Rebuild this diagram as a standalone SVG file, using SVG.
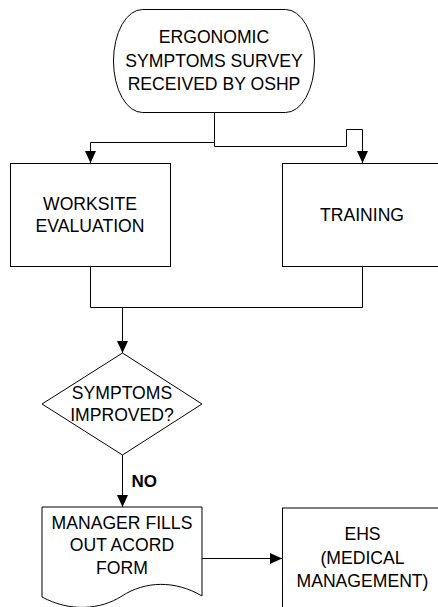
<svg xmlns="http://www.w3.org/2000/svg" width="438" height="607" viewBox="0 0 438 607">
<defs>
<marker id="arr" markerUnits="userSpaceOnUse" markerWidth="12" markerHeight="12" refX="12" refY="5.5" orient="auto">
<path d="M0,0 L12,5.5 L0,11 Z" fill="#000"/>
</marker>
<style>
.sh{fill:#fff;stroke:#000;stroke-width:1}
.t{font-family:"Liberation Sans",Arial,sans-serif;font-size:17.6px;fill:#000;text-anchor:middle}
.b{font-family:"Liberation Sans",Arial,sans-serif;font-size:17px;font-weight:bold;fill:#000}
.c{fill:none;stroke:#000;stroke-width:1}
</style>
</defs>
<rect width="438" height="607" fill="#fff"/>
<g id="connectors">
<path class="c" d="M214.5,112 V142.5 H90.5 V163" marker-end="url(#arr)"/>
<path class="c" d="M214.5,112 V146.5 H346.5 V129.5 H362.5 V163" marker-end="url(#arr)"/>
<path class="c" d="M90.5,267 V307.5 H362.5 V267"/>
<path class="c" d="M122.5,307.5 V353" marker-end="url(#arr)"/>
<path class="c" d="M122.5,455 V507" marker-end="url(#arr)"/>
<path class="c" d="M202,558.5 H282" marker-end="url(#arr)"/>
<text class="b" x="131.5" y="487">NO</text>
</g>
<g id="start">
<rect class="sh" x="113.5" y="9.5" width="201" height="103" rx="29" ry="51.5"/>
<text class="t" x="214" y="43">ERGONOMIC</text>
<text class="t" x="214" y="66.5">SYMPTOMS SURVEY</text>
<text class="t" x="214" y="90">RECEIVED BY OSHP</text>
</g>
<g id="worksite">
<rect class="sh" x="10.5" y="163.5" width="160" height="103"/>
<text class="t" x="90" y="210">WORKSITE</text>
<text class="t" x="90" y="232">EVALUATION</text>
</g>
<g id="training">
<rect class="sh" x="282.5" y="163.5" width="160" height="103"/>
<text class="t" x="362" y="221">TRAINING</text>
</g>
<g id="decision">
<path class="sh" d="M122.5,353 L202,404 L122.5,455 L42,404 Z"/>
<text class="t" x="122" y="398.5">SYMPTOMS</text>
<text class="t" x="122" y="421">IMPROVED?</text>
</g>
<g id="manager">
<path class="sh" d="M42,507 H202 V596 C175,580 145,581 122,596 C100,610 70,612 42,597 Z"/>
<text class="t" x="122" y="528.5">MANAGER FILLS</text>
<text class="t" x="122" y="551">OUT ACORD</text>
<text class="t" x="122" y="573.5">FORM</text>
</g>
<g id="ehs">
<rect class="sh" x="282.5" y="508" width="160" height="110"/>
<text class="t" x="362.5" y="540">EHS</text>
<text class="t" x="362.5" y="563.5">(MEDICAL</text>
<text class="t" x="362.5" y="587">MANAGEMENT)</text>
</g>
</svg>
